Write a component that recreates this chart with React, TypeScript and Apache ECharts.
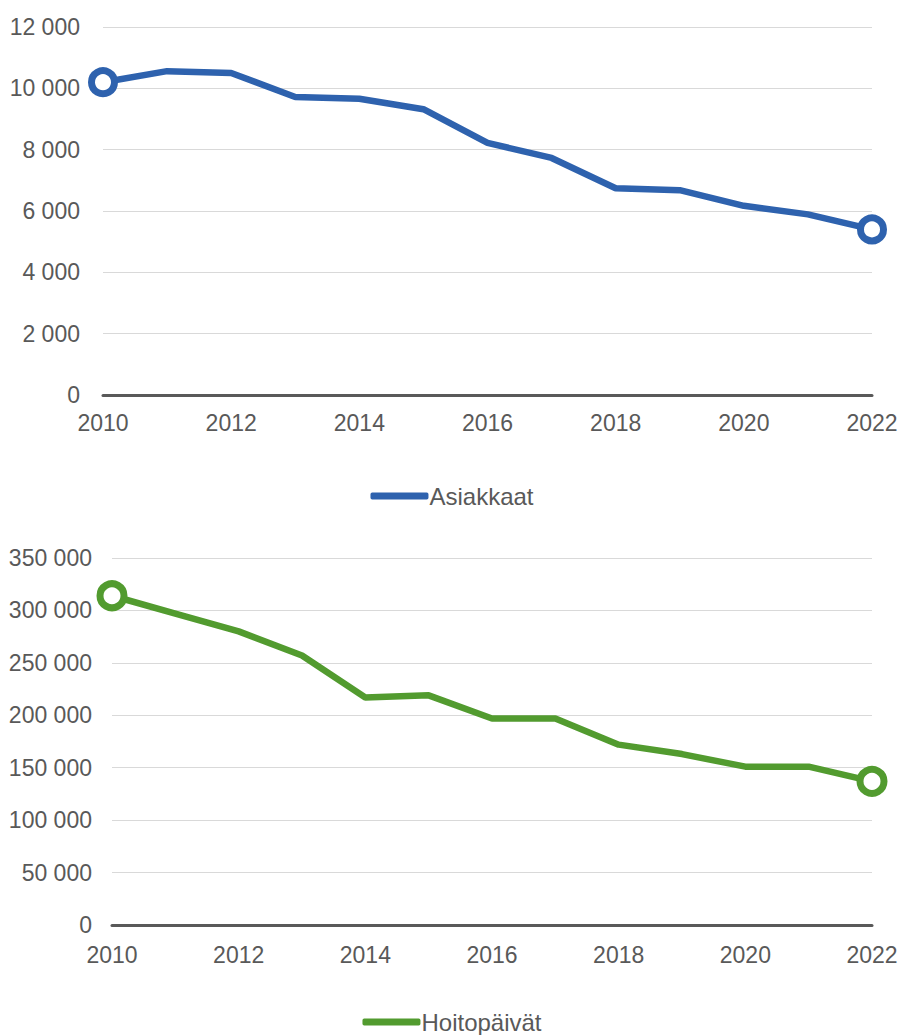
import React, { useEffect, useRef } from "react";
import * as echarts from "echarts";

const years = ["2010","2011","2012","2013","2014","2015","2016","2017","2018","2019","2020","2021","2022"];
const asiakkaat = [10200, 10560, 10500, 9720, 9660, 9320, 8220, 7730, 6740, 6680, 6170, 5890, 5400];
const hoitopaivat = [314000, 297000, 280000, 257000, 217000, 219000, 197000, 197000, 172000, 163000, 151000, 151000, 137000];

const BLUE = "#2E62AE";
const GREEN = "#529B2F";
const TEXT = "#595959";

function fmt(v: number) {
  return String(v).replace(/\B(?=(\d{3})+(?!\d))/g, " ");
}

function pts(vals: number[], color: string, size: number) {
  return vals.map((v, i) =>
    i === 0 || i === vals.length - 1
      ? { value: v, symbol: "circle", symbolSize: size, itemStyle: { color: "#fff", borderColor: color, borderWidth: 7 } }
      : { value: v, symbol: "none" }
  );
}

export default function App() {
  const ref = useRef<HTMLDivElement>(null);
  useEffect(() => {
    document.body.style.margin = "0";
    const chart = echarts.init(ref.current!, null, { renderer: "svg" });
    const font = "Liberation Sans, Arial, sans-serif";
    const xAxisCommon = (gi: number, margin: number) => ({
      type: "category",
      gridIndex: gi,
      data: years,
      boundaryGap: false,
      axisLine: { show: true, lineStyle: { color: TEXT, width: 3 } },
      axisTick: { show: false },
      axisLabel: { color: TEXT, fontSize: 23, fontFamily: font, interval: 1, margin },
      splitLine: { show: false },
    });
    const yAxisCommon = (gi: number, max: number, interval: number, margin: number) => ({
      type: "value",
      gridIndex: gi,
      min: 0,
      max,
      interval,
      axisLine: { show: false },
      axisTick: { show: false },
      axisLabel: { color: TEXT, fontSize: 23, fontFamily: font, margin, formatter: (v: number) => fmt(v) },
      splitLine: { lineStyle: { color: "#D9D9D9", width: 1 } },
    });
    chart.setOption({
      animation: false,
      grid: [
        { left: 103, right: 32, top: 27, height: 368 },
        { left: 112, right: 32, top: 558, height: 367 },
      ],
      xAxis: [xAxisCommon(0, 16), xAxisCommon(1, 18)],
      yAxis: [yAxisCommon(0, 12000, 2000, 23), yAxisCommon(1, 350000, 50000, 20)],
      legend: [
        {
          data: [{ name: "Asiakkaat", icon: "roundRect", itemStyle: { color: BLUE } }],
          left: "center",
          top: 479,
          itemWidth: 58,
          itemHeight: 7,
          textStyle: { color: TEXT, fontSize: 24, fontFamily: font, padding: [0, 0, 0, -4] },
        },
        {
          data: [{ name: "Hoitopäivät", icon: "roundRect", itemStyle: { color: GREEN } }],
          left: "center",
          top: 1005,
          itemWidth: 58,
          itemHeight: 7,
          textStyle: { color: TEXT, fontSize: 24, fontFamily: font, padding: [0, 0, 0, -4] },
        },
      ],
      series: [
        {
          name: "Asiakkaat",
          type: "line",
          xAxisIndex: 0,
          yAxisIndex: 0,
          color: BLUE,
          lineStyle: { color: BLUE, width: 6.5 },
          data: pts(asiakkaat, BLUE, 23),
        },
        {
          name: "Hoitopäivät",
          type: "line",
          xAxisIndex: 1,
          yAxisIndex: 1,
          color: GREEN,
          lineStyle: { color: GREEN, width: 6.5 },
          data: pts(hoitopaivat, GREEN, 24),
        },
      ],
    });
    return () => chart.dispose();
  }, []);
  return <div ref={ref} style={{ width: 904, height: 1035 }} />;
}
